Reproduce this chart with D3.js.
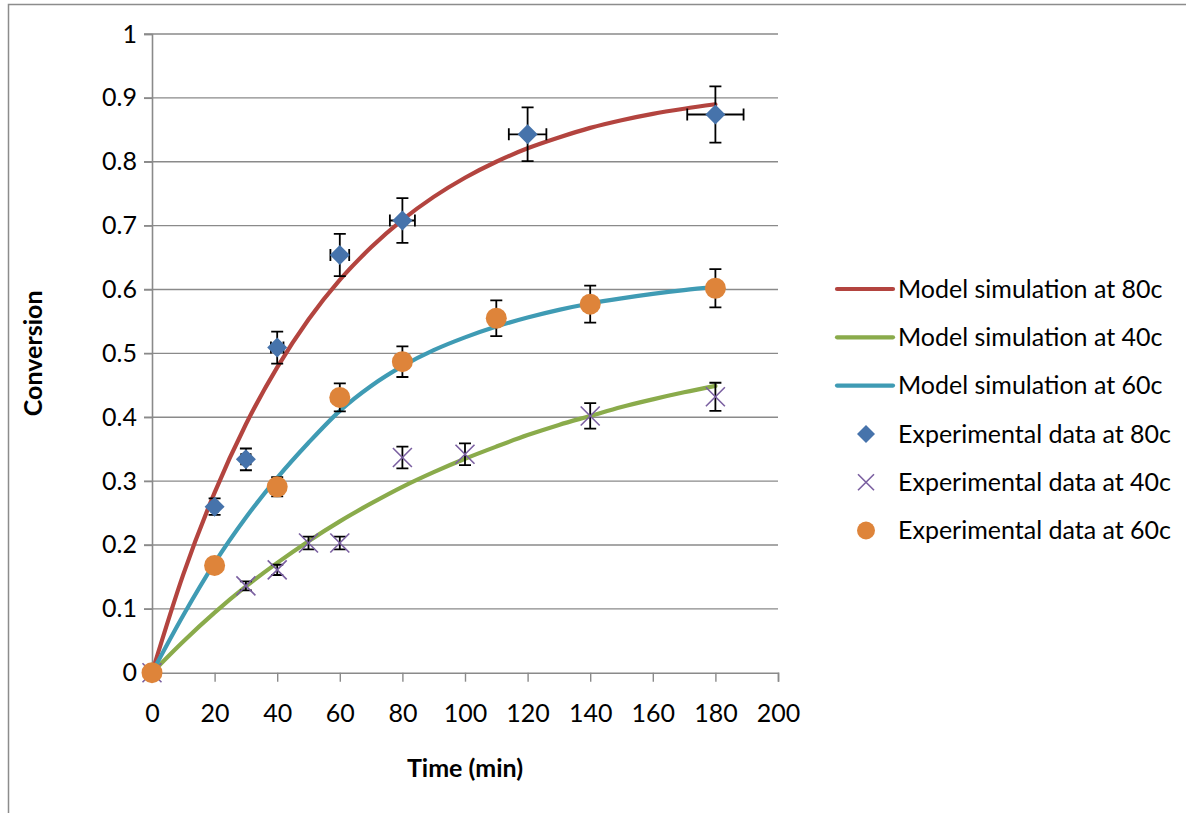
<!DOCTYPE html>
<html>
<head>
<meta charset="utf-8">
<script src="https://cdn.jsdelivr.net/npm/d3@7"></script>
<style>
  body { margin: 0; background: #fff; }
  text { font-family: Lato, "Open Sans", sans-serif; fill: #000; }
</style>
</head>
<body>
<div id="wrapper"></div>
<script>
// model curves (every 10 min)
const modelTime = [0, 10, 20, 30, 40, 50, 60, 70, 80, 90, 100, 110, 120, 130, 140, 150, 160, 170, 180]
const model80 = [0, 0.154, 0.282, 0.389, 0.478, 0.553, 0.615, 0.666, 0.709, 0.745, 0.775, 0.800, 0.821, 0.838, 0.853, 0.865, 0.875, 0.883, 0.890]
const model40 = [0, 0.049, 0.094, 0.135, 0.172, 0.206, 0.237, 0.265, 0.291, 0.314, 0.335, 0.354, 0.372, 0.388, 0.402, 0.416, 0.428, 0.439, 0.449]
const model60 = [0, 0.090, 0.172, 0.243, 0.305, 0.360, 0.410, 0.449, 0.480, 0.505, 0.525, 0.542, 0.556, 0.568, 0.578, 0.586, 0.593, 0.599, 0.604]

// experimental data
const time80 = [0, 20, 30, 40, 60, 80, 120, 180]
const conv80 = [0, 0.260, 0.334, 0.509, 0.654, 0.708, 0.843, 0.874]
const yErr80 = [0, 0.013, 0.017, 0.025, 0.033, 0.035, 0.042, 0.044]
const xErr80 = [0, 1, 1.5, 2, 3, 4, 6, 9]

const time40 = [0, 30, 40, 50, 60, 80, 100, 140, 180]
const conv40 = [0, 0.136, 0.161, 0.203, 0.203, 0.337, 0.342, 0.402, 0.432]
const yErr40 = [0, 0.007, 0.008, 0.010, 0.010, 0.017, 0.017, 0.020, 0.022]

const time60 = [0, 20, 40, 60, 80, 110, 140, 180]
const conv60 = [0, 0.168, 0.291, 0.431, 0.487, 0.555, 0.577, 0.602]
const yErr60 = [0, 0.008, 0.015, 0.022, 0.024, 0.028, 0.029, 0.030]

const xTicks = [0, 20, 40, 60, 80, 100, 120, 140, 160, 180, 200]
const yTicks = [0, 0.1, 0.2, 0.3, 0.4, 0.5, 0.6, 0.7, 0.8, 0.9, 1]

const legendNames = [
  'Model simulation at 80c',
  'Model simulation at 40c',
  'Model simulation at 60c',
  'Experimental data at 80c',
  'Experimental data at 40c',
  'Experimental data at 60c'
]

const colors = {
  red: '#b3443f',
  green: '#8aab4b',
  teal: '#3f9bb4',
  blue: '#4673ab',
  purple: '#7a5fa0',
  orange: '#de843a',
  grid: '#8a8a8a'
}

const width = 1186
const height = 813
const dims = { left: 152, right: 778, top: 34, bottom: 672.7 }

const svg = d3.select('#wrapper')
  .append('svg')
    .attr('width', width)
    .attr('height', height)

// outer chart border (cropped by the picture)
svg.append('rect')
    .attr('x', 8.5)
    .attr('y', 4.5)
    .attr('width', 1300)
    .attr('height', 900)
    .attr('fill', 'none')
    .attr('stroke', '#8c8c8c')
    .attr('stroke-width', 1.5)

const xScale = d3.scaleLinear()
  .domain([0, 200])
  .range([dims.left, dims.right])

const yScale = d3.scaleLinear()
  .domain([0, 1])
  .range([dims.bottom, dims.top])

// gridlines
svg.append('g')
  .selectAll('line')
  .data(yTicks.slice(1))
  .join('line')
    .attr('x1', dims.left - 8)
    .attr('x2', dims.right)
    .attr('y1', d => yScale(d))
    .attr('y2', d => yScale(d))
    .attr('stroke', colors.grid)
    .attr('stroke-width', 1.4)

// y axis
const yAxis = svg.append('g')
    .attr('transform', `translate(${dims.left},0)`)
    .call(d3.axisLeft(yScale).tickValues(yTicks).tickFormat(d3.format('')).tickSize(8).tickPadding(8))
yAxis.select('.domain').attr('stroke', colors.grid).attr('stroke-width', 1.6)
yAxis.selectAll('.tick line').attr('stroke', colors.grid).attr('stroke-width', 1.4)
yAxis.selectAll('.tick text')
    .style('font-size', '25px')
    .attr('x', -15)

// x axis
const xAxis = svg.append('g')
    .attr('transform', `translate(0,${dims.bottom})`)
    .call(d3.axisBottom(xScale).tickValues(xTicks).tickSize(9).tickPadding(23))
xAxis.select('.domain').attr('stroke', colors.grid).attr('stroke-width', 1.6)
xAxis.selectAll('.tick line').attr('stroke', colors.grid).attr('stroke-width', 1.4)
xAxis.selectAll('.tick text').style('font-size', '25px')

// axis titles
svg.append('text')
    .attr('x', (dims.left + dims.right) / 2)
    .attr('y', 777)
    .attr('text-anchor', 'middle')
    .style('font-size', '25px')
    .style('font-weight', 'bold')
    .text('Time (min)')

svg.append('text')
    .attr('transform', `translate(42,${(dims.top + dims.bottom) / 2}) rotate(-90)`)
    .attr('text-anchor', 'middle')
    .style('font-size', '25px')
    .style('font-weight', 'bold')
    .text('Conversion')

// model lines
const lineGen = d3.line()
  .x(d => xScale(d[0]))
  .y(d => yScale(d[1]))
  .curve(d3.curveMonotoneX)

const models = [
  { values: model80, color: colors.red },
  { values: model40, color: colors.green },
  { values: model60, color: colors.teal }
]
svg.append('g')
  .selectAll('path')
  .data(models)
  .join('path')
    .attr('d', m => lineGen(modelTime.map((t, i) => [t, m.values[i]])))
    .attr('fill', 'none')
    .attr('stroke', m => m.color)
    .attr('stroke-width', 4.2)
    .attr('stroke-linecap', 'round')

// error bars
const toPoints = (ts, cs, ye, xe) => ts.map((t, i) => ({ t, c: cs[i], ye: ye[i], xe: xe ? xe[i] : 0 }))
const pts80 = toPoints(time80, conv80, yErr80, xErr80)
const pts40 = toPoints(time40, conv40, yErr40)
const pts60 = toPoints(time60, conv60, yErr60)

const cap = 6
function drawErrors(points) {
  const g = svg.append('g')
    .attr('stroke', '#000')
    .attr('stroke-width', 1.8)
    .attr('fill', 'none')
  points.filter(p => p.ye > 0).forEach(p => {
    const x = xScale(p.t), y1 = yScale(p.c - p.ye), y2 = yScale(p.c + p.ye)
    g.append('path').attr('d', `M${x},${y1}V${y2}M${x - cap},${y1}H${x + cap}M${x - cap},${y2}H${x + cap}`)
  })
  points.filter(p => p.xe > 0).forEach(p => {
    const y = yScale(p.c), x1 = xScale(p.t - p.xe), x2 = xScale(p.t + p.xe)
    g.append('path').attr('d', `M${x1},${y}H${x2}M${x1},${y - cap}V${y + cap}M${x2},${y - cap}V${y + cap}`)
  })
}

// markers
const diamond = (x, y, s) => `M${x},${y - s}L${x + s},${y}L${x},${y + s}L${x - s},${y}Z`
const cross = (x, y, s) => `M${x - s},${y - s}L${x + s},${y + s}M${x - s},${y + s}L${x + s},${y - s}`

drawErrors(pts80)
svg.append('g')
  .selectAll('path')
  .data(pts80)
  .join('path')
    .attr('d', p => diamond(xScale(p.t), yScale(p.c), 10))
    .attr('fill', colors.blue)

drawErrors(pts40)
svg.append('g')
  .selectAll('path')
  .data(pts40)
  .join('path')
    .attr('d', p => cross(xScale(p.t), yScale(p.c), 9.5))
    .attr('stroke', colors.purple)
    .attr('stroke-width', 1.6)
    .attr('fill', 'none')

drawErrors(pts60)
svg.append('g')
  .selectAll('circle')
  .data(pts60)
  .join('circle')
    .attr('cx', p => xScale(p.t))
    .attr('cy', p => yScale(p.c))
    .attr('r', 10.5)
    .attr('fill', colors.orange)

// legend
const legend = svg.append('g')
  .attr('transform', 'translate(837,289)')
const legendSpacing = 48.3
const legendKinds = ['line', 'line', 'line', 'diamond', 'cross', 'circle']
const legendColors = [colors.red, colors.green, colors.teal, colors.blue, colors.purple, colors.orange]

const items = legend.selectAll('g')
  .data(legendNames)
  .join('g')
    .attr('transform', (d, i) => `translate(0,${i * legendSpacing})`)

items.each(function(d, i) {
  const item = d3.select(this)
  const kind = legendKinds[i]
  if (kind === 'line') {
    item.append('line')
        .attr('x1', 0).attr('x2', 56)
        .attr('stroke', legendColors[i])
        .attr('stroke-width', 4.2)
        .attr('stroke-linecap', 'round')
  } else if (kind === 'diamond') {
    item.append('path').attr('d', diamond(29, 0, 9)).attr('fill', legendColors[i])
  } else if (kind === 'cross') {
    item.append('path').attr('d', cross(29, 0, 8))
        .attr('stroke', legendColors[i]).attr('stroke-width', 1.6).attr('fill', 'none')
  } else {
    item.append('circle').attr('cx', 29).attr('r', 9).attr('fill', legendColors[i])
  }
  item.append('text')
      .attr('x', 61)
      .attr('dy', '0.35em')
      .style('font-size', '25px')
      .text(d)
})
</script>
</body>
</html>
